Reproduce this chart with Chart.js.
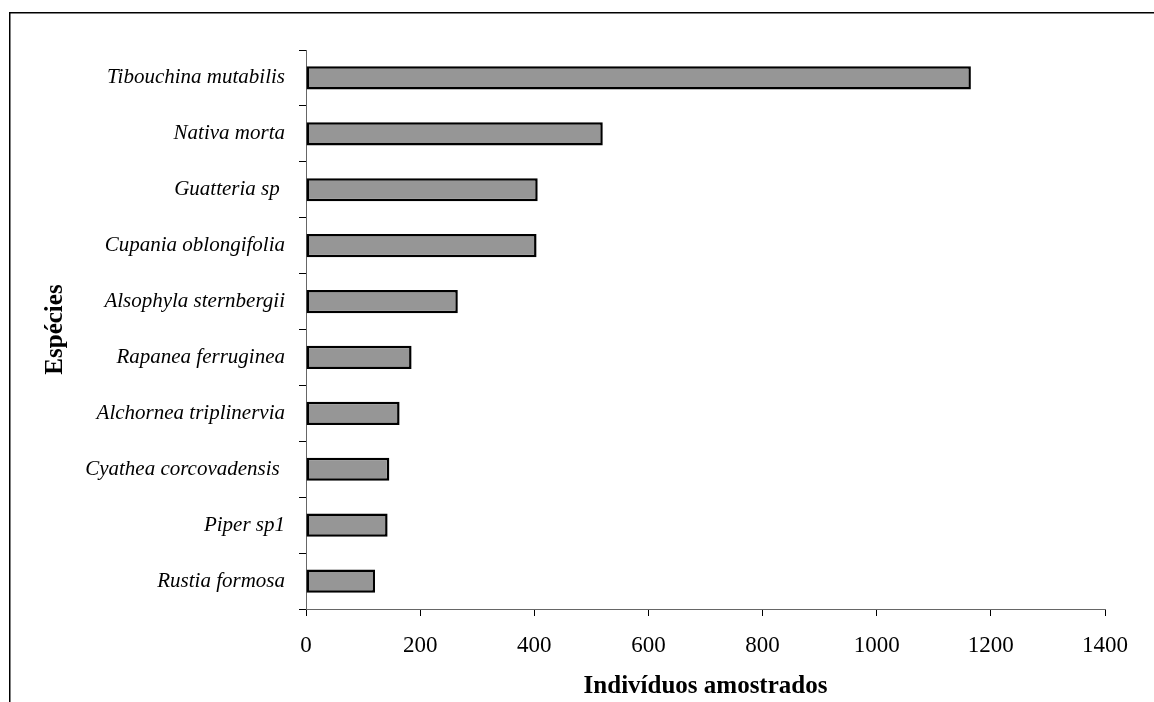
<!DOCTYPE html>
<html>
<head>
<meta charset="utf-8">
<script src="https://cdn.jsdelivr.net/npm/chart.js@4"></script>
<style>
  html, body { margin: 0; padding: 0; background: #fff; }
  #wrap { width: 1154px; height: 702px; position: relative; }
</style>
</head>
<body>
<div id="wrap"><canvas id="c" width="1154" height="702"></canvas></div>
<script>
const categories = [
  "Tibouchina mutabilis",
  "Nativa morta",
  "Guatteria sp ",
  "Cupania oblongifolia",
  "Alsophyla sternbergii",
  "Rapanea ferruginea",
  "Alchornea triplinervia",
  "Cyathea corcovadensis ",
  "Piper sp1",
  "Rustia formosa"
];
const values = [1165, 520, 406, 404, 266, 185, 164, 146, 143, 121];
const xTicks = [0, 200, 400, 600, 800, 1000, 1200, 1400];
const xTitle = "Indivíduos amostrados";
const yTitle = "Espécies";

const framePlugin = {
  id: 'frame',
  afterDraw(chart) {
    const ctx = chart.ctx;
    ctx.save();
    ctx.strokeStyle = '#000';
    ctx.lineWidth = 1.5;
    ctx.beginPath();
    ctx.moveTo(9.75, 702);
    ctx.lineTo(9.75, 12.75);
    ctx.lineTo(1154, 12.75);
    ctx.stroke();
    ctx.restore();
  }
};

new Chart(document.getElementById('c'), {
  type: 'bar',
  data: {
    labels: categories,
    datasets: [{
      data: values,
      backgroundColor: '#969696',
      borderColor: '#000',
      borderWidth: 2.5,
      borderSkipped: false,
      barPercentage: 0.415,
      categoryPercentage: 1
    }]
  },
  options: {
    indexAxis: 'y',
    responsive: false,
    animation: false,
    devicePixelRatio: 1,
    layout: { padding: { top: 50, right: 49, left: 0, bottom: 0 } },
    plugins: { legend: { display: false }, tooltip: { enabled: false } },
    scales: {
      x: {
        min: xTicks[0], max: xTicks[xTicks.length - 1],
        afterBuildTicks(scale) { scale.ticks = xTicks.map(v => ({ value: v })); },
        ticks: { color: '#000', padding: 16,
          callback: (v) => String(v),
          font: { family: 'Liberation Serif', size: 23 } },
        grid: { drawOnChartArea: false, drawTicks: true, tickLength: 7, color: '#000', lineWidth: 1 },
        border: { display: true, color: '#666', width: 1 },
        title: { display: true, text: xTitle, color: '#000', padding: { top: 0, bottom: 0 },
          font: { family: 'Liberation Serif', size: 25, weight: 'bold' } },
        afterFit(scale) { scale.height = 93; }
      },
      y: {
        ticks: { color: '#000', padding: 14,
          font: { family: 'Liberation Serif', size: 21, style: 'italic' } },
        grid: { drawOnChartArea: false, drawTicks: true, tickLength: 7, color: '#000', lineWidth: 1, offset: true },
        border: { display: true, color: '#666', width: 1 },
        title: { display: true, text: yTitle, color: '#000', padding: { top: 41, bottom: 0 },
          font: { family: 'Liberation Serif', size: 25, weight: 'bold' } },
        afterFit(scale) { scale.width = 306; }
      }
    }
  },
  plugins: [framePlugin]
});
</script>
</body>
</html>
